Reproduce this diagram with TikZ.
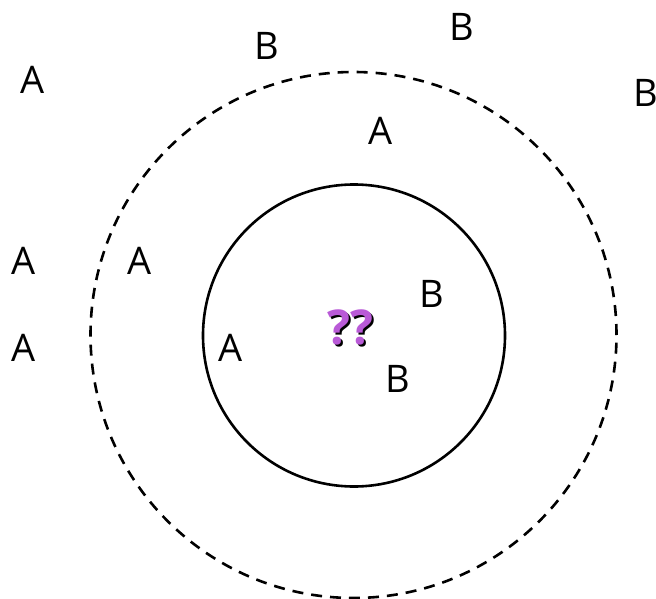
\documentclass[tikz,border=0pt]{standalone}
\usepackage{fontspec}
\setmainfont{Open Sans}
\usepackage{xcolor}
\usetikzlibrary{positioning}
\definecolor{qpurple}{RGB}{185,90,215}

\begin{document}
\begin{tikzpicture}[
        x=1pt, y=-1pt,
        letter/.style={font=\fontsize{38}{40}\selectfont, inner sep=0pt},
        ring/.style={draw, circle, line width=2.6pt, inner sep=0pt},
        query/.style={font=\fontsize{48}{50}\selectfont\bfseries, inner sep=0pt}
    ]
    \useasboundingbox (0,0) rectangle (656,599);
    \node (outer) [ring, dash pattern=on 11pt off 8pt, minimum size=526pt] at (353.5,335) {};
    \node (inner) [ring, minimum size=302pt] at (354,335.5) {};

    \node (a1) [letter] at (33,80) {A};
    \node (b1) [letter] at (267,46) {B};
    \node (b2) [letter] at (462,27) {B};
    \node (b3) [letter] at (646,93) {B};
    \node (a2) [letter] at (381,131) {A};
    \node (a3) [letter] at (24,261) {A};
    \node (a4) [letter] at (140,261) {A};
    \node (a5) [letter] at (24,348) {A};
    \node (a6) [letter] at (231,348) {A};
    \node (b4) [letter] at (432,294) {B};
    \node (b5) [letter] at (398,379) {B};

    % purple marks with a black shadow behind
    \node (qq) [query] at (350,328)
        {\rlap{\hspace{2pt}\raisebox{-2pt}{??}}\textcolor{qpurple}{??}};
    \end{tikzpicture}
\end{document}
